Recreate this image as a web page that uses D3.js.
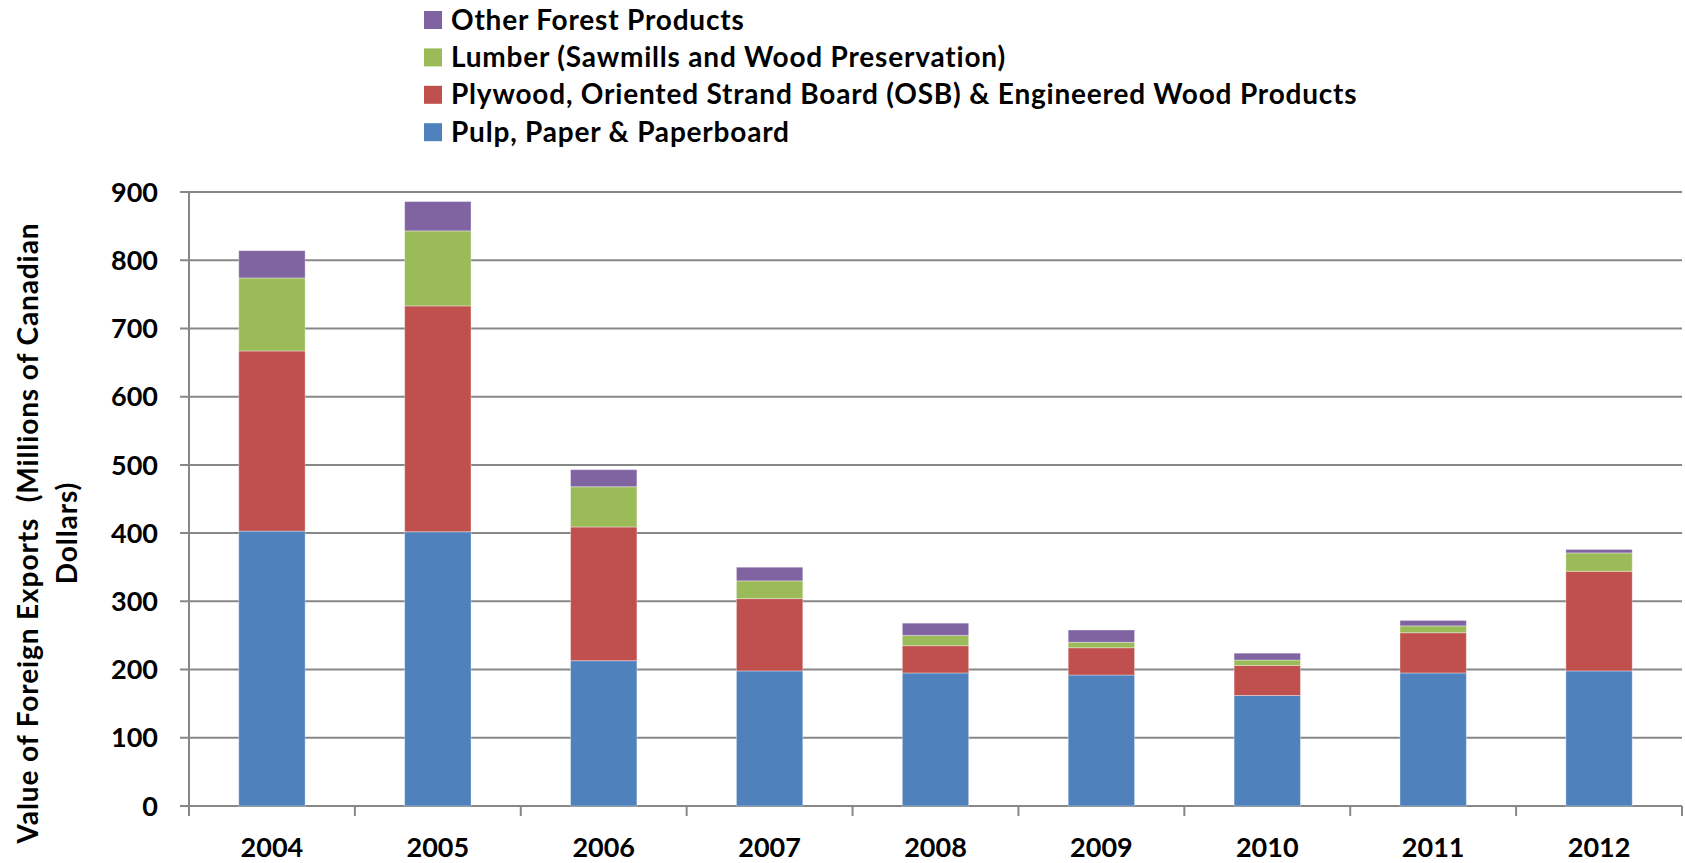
<!DOCTYPE html>
<html>
<head>
<meta charset="utf-8">
<script src="https://cdn.jsdelivr.net/npm/d3@7"></script>
<style>
  html, body { margin: 0; padding: 0; background: #ffffff; }
  svg { display: block; }
  text { font-family: Lato, "Open Sans", sans-serif; font-weight: bold; fill: #000; }
</style>
</head>
<body>
<svg id="chart" width="1685" height="863"></svg>
<script>
// Export values, millions of Canadian dollars
const years = ["2004", "2005", "2006", "2007", "2008", "2009", "2010", "2011", "2012"];
const pulpPaper = [403, 402, 213, 198, 195, 192, 162, 195, 198];
const plywoodOsb = [264, 331, 196, 106, 40, 40, 44, 59, 146];
const lumber = [107, 110, 59, 26, 15, 8, 8, 10, 27];
const otherForest = [40, 43, 25, 20, 18, 18, 10, 8, 5];
const yTicks = [0, 100, 200, 300, 400, 500, 600, 700, 800, 900];

const seriesNames = [
  "Pulp, Paper & Paperboard",
  "Plywood, Oriented Strand Board (OSB) & Engineered Wood Products",
  "Lumber (Sawmills and Wood Preservation)",
  "Other Forest Products"
];
const seriesValues = [pulpPaper, plywoodOsb, lumber, otherForest];
const colors = ["#4F81BD", "#C0504D", "#9BBB59", "#8064A2"];

const svg = d3.select("#chart");
const plotLeft = 189, plotRight = 1682, plotTop = 192, plotBottom = 806;

const x = d3.scaleBand().domain(years).range([plotLeft, plotRight]).paddingInner(0.6).paddingOuter(0.3);
const y = d3.scaleLinear().domain([0, 900]).range([plotBottom, plotTop]);

// Rows for the stack
const rows = years.map((yr, i) => {
  const r = { year: yr };
  seriesNames.forEach((n, s) => { r[n] = seriesValues[s][i]; });
  return r;
});
const stacked = d3.stack().keys(seriesNames)(rows);

// Horizontal gridlines with tick stubs to the left of the axis
svg.append("g").selectAll("line").data(yTicks).join("line")
  .attr("x1", plotLeft - 9).attr("x2", plotRight)
  .attr("y1", d => y(d)).attr("y2", d => y(d))
  .attr("stroke", "#878787").attr("stroke-width", 2);

// Stacked bars
svg.append("g").selectAll("g").data(stacked).join("g")
  .attr("fill", (d, i) => colors[i])
  .selectAll("rect").data(d => d).join("rect")
  .attr("x", d => x(d.data.year))
  .attr("width", x.bandwidth())
  .attr("y", d => y(d[1]))
  .attr("height", d => y(d[0]) - y(d[1]))
  .attr("stroke", "#ffffff").attr("stroke-opacity", 0.35).attr("stroke-width", 1);

// Vertical axis line
svg.append("line")
  .attr("x1", plotLeft).attr("x2", plotLeft).attr("y1", plotTop).attr("y2", plotBottom + 10)
  .attr("stroke", "#878787").attr("stroke-width", 2);

// Category separator ticks below the baseline
const step = x.step();
const sepX = d3.range(years.length + 1).map(i => plotLeft + i * step);
svg.append("g").selectAll("line").data(sepX).join("line")
  .attr("x1", d => d).attr("x2", d => d)
  .attr("y1", plotBottom).attr("y2", plotBottom + 10)
  .attr("stroke", "#878787").attr("stroke-width", 2);

// Y tick labels
svg.append("g").selectAll("text").data(yTicks).join("text")
  .attr("x", 158).attr("y", d => y(d))
  .attr("dy", "0.36em")
  .attr("text-anchor", "end")
  .attr("font-size", 27)
  .text(d => d);

// X tick labels
svg.append("g").selectAll("text").data(years).join("text")
  .attr("x", d => x(d) + x.bandwidth() / 2).attr("y", 857)
  .attr("text-anchor", "middle")
  .attr("font-size", 27)
  .text(d => d);

// Y axis title, two lines
const title = svg.append("text")
  .attr("transform", "translate(0,533) rotate(-90)")
  .attr("text-anchor", "middle")
  .attr("font-size", 28)
  .attr("letter-spacing", 0.9)
  .style("white-space", "pre");
title.append("tspan").attr("x", 0).attr("y", 38).text("Value of Foreign Exports  (Millions of Canadian");
title.append("tspan").attr("x", 0).attr("y", 77).text("Dollars)");

// Legend, top series first
const legendOrder = [3, 2, 1, 0];
const legend = svg.append("g").selectAll("g").data(legendOrder).join("g")
  .attr("transform", (d, i) => `translate(424,${20 + i * 37.4})`);
legend.append("rect")
  .attr("x", 0).attr("y", -9).attr("width", 18).attr("height", 18)
  .attr("fill", d => colors[d]);
legend.append("text")
  .attr("x", 27).attr("y", 9.5)
  .attr("font-size", 28)
  .attr("letter-spacing", 0.8)
  .text(d => seriesNames[d]);
</script>
</body>
</html>
